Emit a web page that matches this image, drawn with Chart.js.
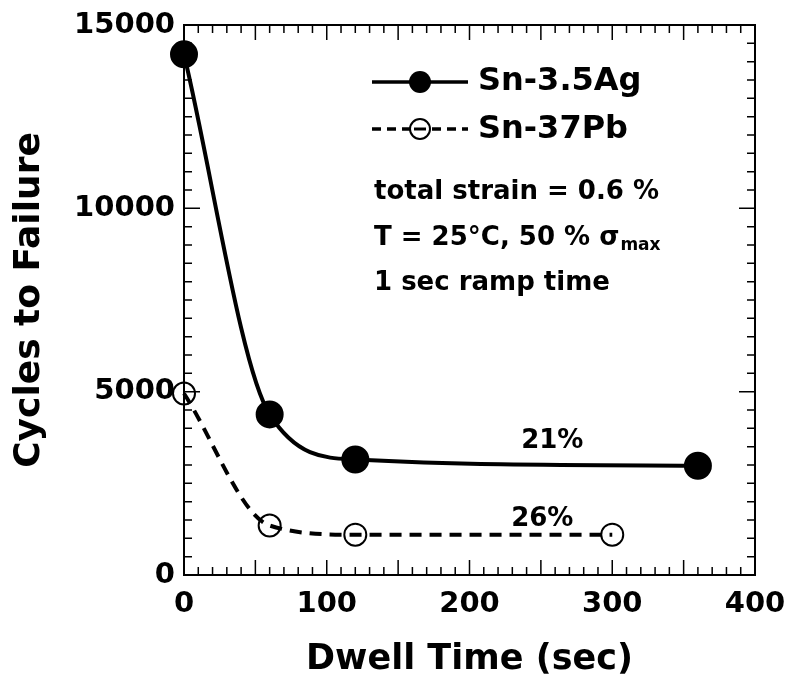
<!DOCTYPE html>
<html>
<head>
<meta charset="utf-8">
<script src="https://cdn.jsdelivr.net/npm/chart.js@4/dist/chart.umd.min.js"></script>
<style>
  html, body { margin: 0; padding: 0; background: #fff; }
  #wrap { width: 788px; height: 681px; }
</style>
</head>
<body>
<div id="wrap"><canvas id="chart" width="788" height="681"></canvas></div>
<script>
const dwellTimes = [0, 60, 120, 360];
const snAgCycles = [14200, 4380, 3150, 2980];
const snPbTimes = [0, 60, 120, 300];
const snPbCycles = [4950, 1350, 1100, 1100];
const xTicks = [0, 100, 200, 300, 400];
const yTicks = [0, 5000, 10000, 15000];
const notes = ["total strain = 0.6 %", "T = 25\u00B0C, 50 % \u03C3", "1 sec ramp time"];
const pctLabels = [
  { x: 258, y: 3650, text: "21%" },
  { x: 251, y: 1520, text: "26%" }
];

const FONT = "'DejaVu Sans', sans-serif";
Chart.defaults.font.family = FONT;
Chart.defaults.color = "#000";

// inward ticks + frame on all four sides
const frameTicks = {
  id: "frameTicks",
  beforeDatasetsDraw(chart) {
    const { ctx, chartArea: a, scales: { x, y } } = chart;
    ctx.save();
    ctx.strokeStyle = "#000";
    ctx.lineWidth = 1.5;
    ctx.beginPath();
    for (let v = 0; v <= 400; v += 10) {
      const px = x.getPixelForValue(v);
      const len = v % 50 === 0 ? 15 : 8;
      ctx.moveTo(px, a.bottom); ctx.lineTo(px, a.bottom - len);
      ctx.moveTo(px, a.top); ctx.lineTo(px, a.top + len);
    }
    for (let v = 0; v <= 15000; v += 500) {
      const py = y.getPixelForValue(v);
      const len = v % 5000 === 0 ? 16 : 8;
      ctx.moveTo(a.left, py); ctx.lineTo(a.left + len, py);
      ctx.moveTo(a.right, py); ctx.lineTo(a.right - len, py);
    }
    ctx.stroke();
    ctx.lineWidth = 2;
    ctx.strokeRect(a.left, a.top, a.right - a.left, a.bottom - a.top);
    ctx.restore();
  },
  afterDraw(chart) {
    const { ctx, scales: { x, y } } = chart;
    ctx.save();
    ctx.fillStyle = "#000";
    ctx.strokeStyle = "#000";
    ctx.textBaseline = "middle";

    // legend
    ctx.lineWidth = 3.5;
    ctx.beginPath(); ctx.moveTo(372, 82); ctx.lineTo(468, 82); ctx.stroke();
    ctx.beginPath(); ctx.arc(420, 82, 11, 0, Math.PI * 2); ctx.fill();
    ctx.setLineDash([9, 6]);
    ctx.beginPath(); ctx.moveTo(372, 129); ctx.lineTo(468, 129); ctx.stroke();
    ctx.setLineDash([]);
    ctx.fillStyle = "#fff";
    ctx.beginPath(); ctx.arc(420, 129, 10, 0, Math.PI * 2); ctx.fill();
    ctx.fillStyle = "#000";
    ctx.lineWidth = 2;
    ctx.beginPath(); ctx.arc(420, 129, 10, 0, Math.PI * 2); ctx.stroke();
    ctx.lineWidth = 3;
    ctx.beginPath(); ctx.moveTo(414, 129); ctx.lineTo(426, 129); ctx.stroke();

    ctx.font = "bold 32px " + FONT;
    ctx.fillText("Sn-3.5Ag", 478, 82);
    ctx.fillText("Sn-37Pb", 478, 130);

    // condition notes
    ctx.font = "bold 26px " + FONT;
    ctx.fillText(notes[0], 374, 192);
    ctx.fillText(notes[1], 374, 238);
    const w = ctx.measureText(notes[1]).width;
    ctx.font = "bold 17px " + FONT;
    ctx.fillText("max", 374 + w + 1, 246);
    ctx.font = "bold 26px " + FONT;
    ctx.fillText(notes[2], 374, 283);

    // percentage labels
    ctx.textAlign = "center";
    pctLabels.forEach(p => {
      ctx.fillText(p.text, x.getPixelForValue(p.x), y.getPixelForValue(p.y));
    });
    ctx.restore();
  }
};

new Chart(document.getElementById("chart"), {
  type: "scatter",
  data: {
    datasets: [
      {
        label: "Sn-3.5Ag",
        data: dwellTimes.map((t, i) => ({ x: t, y: snAgCycles[i] })),
        showLine: true,
        cubicInterpolationMode: "monotone",
        borderColor: "#000",
        borderWidth: 4,
        pointRadius: 12,
        pointBackgroundColor: "#000",
        pointBorderColor: "#000",
        clip: false
      },
      {
        label: "Sn-37Pb",
        data: snPbTimes.map((t, i) => ({ x: t, y: snPbCycles[i] })),
        showLine: true,
        cubicInterpolationMode: "monotone",
        borderColor: "#000",
        borderWidth: 4,
        borderDash: [12, 8],
        pointRadius: 11,
        pointBorderWidth: 2,
        pointBackgroundColor: "rgba(0,0,0,0)",
        pointBorderColor: "#000",
        clip: false
      }
    ]
  },
  options: {
    responsive: false,
    animation: false,
    layout: { padding: { left: 0, top: 25, right: 33, bottom: 0 } },
    plugins: { legend: { display: false }, tooltip: { enabled: false } },
    scales: {
      x: {
        type: "linear",
        min: 0,
        max: 400,
        afterBuildTicks: s => { s.ticks = xTicks.map(v => ({ value: v })); },
        afterFit: s => { s.height = 106; s.paddingLeft = 0; s.paddingRight = 0; },
        grid: { display: false, drawTicks: false },
        border: { display: false },
        ticks: { font: { size: 29, weight: "bold" }, padding: 12, color: "#000", callback: v => String(v) },
        title: {
          display: true,
          text: "Dwell Time (sec)",
          font: { size: 35, weight: "bold" },
          padding: { top: 0, bottom: 0 },
          color: "#000"
        }
      },
      y: {
        type: "linear",
        min: 0,
        max: 15000,
        afterBuildTicks: s => { s.ticks = yTicks.map(v => ({ value: v })); },
        afterFit: s => { s.width = 184; s.paddingTop = 0; s.paddingBottom = 0; },
        grid: { display: false, drawTicks: false },
        border: { display: false },
        ticks: { font: { size: 29, weight: "bold" }, padding: 9, color: "#000", callback: v => String(v) },
        title: {
          display: true,
          text: "Cycles to Failure",
          font: { size: 36, weight: "bold" },
          padding: { top: 8, bottom: 0 },
          color: "#000"
        }
      }
    }
  },
  plugins: [frameTicks]
});
</script>
</body>
</html>
